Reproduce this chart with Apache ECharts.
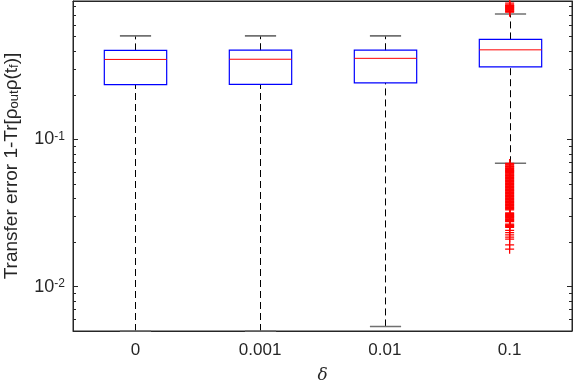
<!DOCTYPE html>
<html>
<head>
<meta charset="utf-8">
<script src="https://cdn.jsdelivr.net/npm/echarts@6/dist/echarts.min.js"></script>
<style>
  html, body { margin: 0; padding: 0; background: #fff; }
  #chart { width: 576px; height: 384px; }
</style>
</head>
<body>
<div id="chart"></div>
<script>
// box statistics per delta
var categories = ['0', '0.001', '0.01', '0.1'];
var whiskerLow = [0.005, 0.005, 0.00537, 0.0689];
var quartile1 = [0.235, 0.236, 0.2416, 0.311];
var medians = [0.349, 0.350, 0.355, 0.4055];
var quartile3 = [0.402, 0.403, 0.403, 0.477];
var whiskerHigh = [0.504, 0.504, 0.504, 0.710];

// outliers only for delta = 0.1 (dense run of points, read as closely as possible)
var outlierCategory = 3;
var outliersHigh = [0.73, 0.738, 0.745, 0.753, 0.76, 0.768, 0.775, 0.783, 0.79, 0.798,
  0.805, 0.812, 0.82, 0.84];
var outliersLow = [
  0.0686, 0.0678, 0.0670, 0.0662, 0.0654, 0.0647, 0.0639, 0.0632, 0.0624, 0.0617,
  0.0610, 0.0603, 0.0596, 0.0589, 0.0582, 0.0575, 0.0569, 0.0562, 0.0556, 0.0549,
  0.0543, 0.0537, 0.0530, 0.0524, 0.0518, 0.0512, 0.0506, 0.0500, 0.0494, 0.0489,
  0.0483, 0.0477, 0.0472, 0.0466, 0.0461, 0.0455, 0.0450, 0.0445, 0.0440, 0.0435,
  0.0430, 0.0425, 0.0420, 0.0415, 0.0410, 0.0405, 0.0400, 0.0396, 0.0391, 0.0387,
  0.0382, 0.0378, 0.0373, 0.0369, 0.0365, 0.0360, 0.0356, 0.0352, 0.0348, 0.0344,
  0.0340, 0.0336, 0.0332, 0.0317, 0.0313, 0.0310, 0.0306, 0.0303, 0.0299, 0.0296,
  0.0292, 0.0289, 0.0285, 0.0282, 0.0279, 0.0276, 0.0266, 0.0263, 0.0260, 0.0257,
  0.0253, 0.02415, 0.02329, 0.02244, 0.02166, 0.02099, 0.01919, 0.01798
];

// y axis range and minor tick marks
var yMin = 0.005;
var yMax = 0.87;
var minorTicks = [0.006, 0.007, 0.008, 0.009,
  0.02, 0.03, 0.04, 0.05, 0.06, 0.07, 0.08, 0.09,
  0.2, 0.3, 0.4, 0.5, 0.6, 0.7, 0.8];

var axisColor = '#262626';
var fontFamily = "'Liberation Sans', Arial, sans-serif";

var boxData = [];
for (var i = 0; i < categories.length; i++) {
  boxData.push([i, whiskerLow[i], quartile1[i], medians[i], quartile3[i], whiskerHigh[i]]);
}
var outlierData = [];
outliersHigh.concat(outliersLow).forEach(function (v) {
  outlierData.push([outlierCategory, v]);
});

function renderBox(params, api) {
  var x = api.value(0);
  var lo = api.coord([x, api.value(1)]);
  var q1 = api.coord([x, api.value(2)]);
  var med = api.coord([x, api.value(3)]);
  var q3 = api.coord([x, api.value(4)]);
  var hi = api.coord([x, api.value(5)]);
  var band = api.size([1, 0.1], [x, 0.1])[0];
  var cx = Math.round(q1[0]) + 0.5;
  var hw = band * 0.25;
  var cw = band * 0.125;
  var dash = { stroke: '#000', lineWidth: 1, lineDash: [7, 4] };
  var cap = { stroke: '#707070', lineWidth: 1.6 };
  return {
    type: 'group',
    children: [
      { type: 'line', shape: { x1: cx, y1: q3[1], x2: cx, y2: hi[1] }, style: dash },
      { type: 'line', shape: { x1: cx, y1: lo[1], x2: cx, y2: q1[1] }, style: dash },
      { type: 'line', shape: { x1: cx - cw, y1: hi[1], x2: cx + cw, y2: hi[1] }, style: cap },
      { type: 'line', shape: { x1: cx - cw, y1: lo[1], x2: cx + cw, y2: lo[1] }, style: cap },
      { type: 'rect', shape: { x: cx - hw, y: q3[1], width: hw * 2, height: q1[1] - q3[1] },
        style: { fill: 'none', stroke: '#0000ff', lineWidth: 1.2 } },
      { type: 'line', shape: { x1: cx - hw, y1: med[1], x2: cx + hw, y2: med[1] },
        style: { stroke: '#ff0000', lineWidth: 1 } }
    ]
  };
}

function renderMinorTick(params, api) {
  var p = api.coord([0, api.value(1)]);
  var cs = params.coordSys;
  var y = Math.round(p[1]) + 0.5;
  var st = { stroke: axisColor, lineWidth: 1 };
  return {
    type: 'group',
    children: [
      { type: 'line', shape: { x1: cs.x, y1: y, x2: cs.x + 3, y2: y }, style: st },
      { type: 'line', shape: { x1: cs.x + cs.width - 3, y1: y, x2: cs.x + cs.width, y2: y }, style: st }
    ]
  };
}

function powerLabel(v) {
  var lg = Math.log10(v);
  var e = Math.round(lg);
  if (Math.abs(lg - e) > 1e-6) return '';
  return '{b|10}{s|' + e + '}';
}

var chart = echarts.init(document.getElementById('chart'));
var option = {
  animation: false,
  textStyle: { fontFamily: fontFamily },
  grid: {
    left: 73, right: 4, top: 1, bottom: 53,
    containLabel: false,
    outerBoundsMode: 'none',
    show: true, borderColor: axisColor, borderWidth: 1
  },
  xAxis: [{
    type: 'category',
    data: categories,
    boundaryGap: true,
    axisLine: { lineStyle: { color: axisColor } },
    axisTick: { inside: true, alignWithLabel: true, length: 5, lineStyle: { color: axisColor } },
    axisLabel: { color: axisColor, fontSize: 17, margin: 11 },
    splitLine: { show: false },
    name: 'δ',
    nameLocation: 'middle',
    nameGap: 36,
    nameTextStyle: { color: axisColor, fontSize: 17, fontStyle: 'italic', fontFamily: "'DejaVu Serif', serif" }
  }, {
    type: 'category',
    data: categories,
    position: 'top',
    boundaryGap: true,
    axisLine: { lineStyle: { color: axisColor } },
    axisTick: { inside: true, alignWithLabel: true, length: 5, lineStyle: { color: axisColor } },
    axisLabel: { show: false }
  }],
  yAxis: [{
    type: 'log',
    logBase: 10,
    min: yMin,
    max: yMax,
    axisLine: { show: true, lineStyle: { color: axisColor } },
    axisTick: { show: true, inside: true, length: 5, lineStyle: { color: axisColor } },
    splitLine: { show: false },
    axisLabel: {
      color: axisColor,
      margin: 8,
      formatter: powerLabel,
      rich: {
        b: { fontSize: 18, color: axisColor, lineHeight: 18, verticalAlign: 'bottom' },
        s: { fontSize: 12, color: axisColor, lineHeight: 12, verticalAlign: 'top' }
      }
    },
    name: 'Transfer error 1-Tr[ρ{sub|out}ρ(t{sub|f})]',
    nameLocation: 'middle',
    nameRotate: 90,
    nameGap: 52,
    nameTextStyle: {
      color: axisColor,
      fontSize: 19,
      lineHeight: 19,
      rich: {
        sub: { fontSize: 13, color: axisColor, lineHeight: 13, verticalAlign: 'bottom', padding: [7, 0, 0, 0] }
      }
    }
  }, {
    type: 'log',
    logBase: 10,
    min: yMin,
    max: yMax,
    position: 'right',
    axisLine: { show: true, lineStyle: { color: axisColor } },
    axisTick: { show: true, inside: true, length: 5, lineStyle: { color: axisColor } },
    splitLine: { show: false },
    axisLabel: { show: false }
  }],
  series: [{
    type: 'custom',
    renderItem: renderMinorTick,
    data: minorTicks.map(function (v) { return [0, v]; }),
    encode: { x: 0, y: 1 },
    silent: true,
    z: 1
  }, {
    type: 'custom',
    renderItem: renderBox,
    data: boxData,
    encode: { x: 0, y: [1, 2, 3, 4, 5] },
    silent: true,
    z: 2
  }, {
    type: 'scatter',
    data: outlierData,
    symbol: 'path://M4.3,0L5.7,0L5.7,4.3L10,4.3L10,5.7L5.7,5.7L5.7,10L4.3,10L4.3,5.7L0,5.7L0,4.3L4.3,4.3Z',
    symbolSize: 9,
    itemStyle: { color: '#ff0000', opacity: 1 },
    silent: true,
    z: 3
  }]
};
chart.setOption(option);
</script>
</body>
</html>
